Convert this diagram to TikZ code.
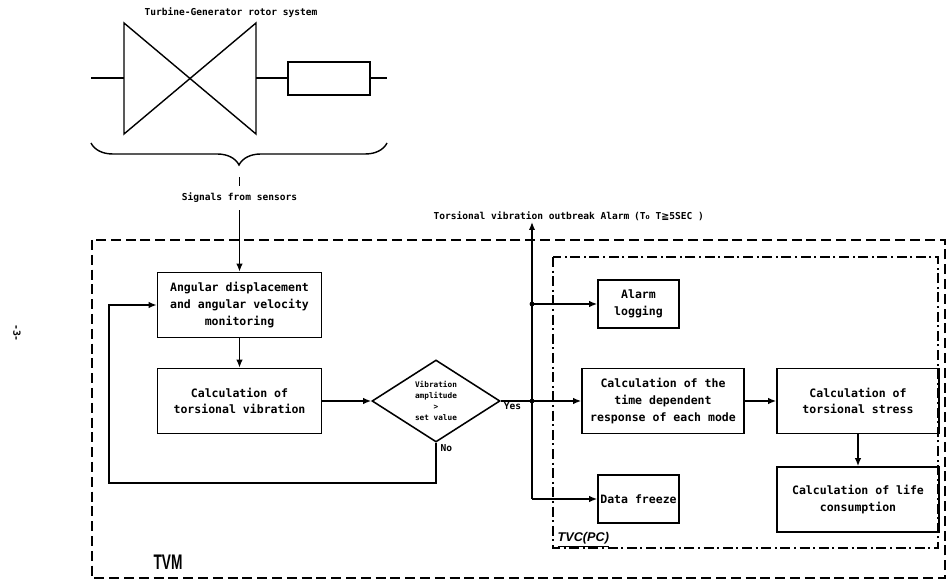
\documentclass[tikz,border=0pt]{standalone}
\usepackage{fontspec}
\setmonofont{DejaVu Sans Mono}
\setsansfont{Liberation Sans}
\newfontfamily\symfont{DejaVu Sans}
\usepackage{tikz}
\usetikzlibrary{arrows.meta,positioning,shapes.geometric,decorations.pathreplacing}
\tikzset{
  procnode/.style={draw,line width=1.1pt,minimum width=41mm,minimum height=16.25mm,align=center,inner sep=1pt,font=\ttfamily\bfseries\fontsize{8.2}{11.8}\selectfont},
  smallnode/.style={procnode,minimum width=20.25mm,minimum height=12mm},
  decisionnode/.style={diamond,draw,line width=1.1pt,minimum width=32mm,minimum height=16mm,inner sep=0pt,align=center,font=\ttfamily\bfseries\fontsize{5.5}{8}\selectfont},
  labeltext/.style={font=\ttfamily\bfseries\fontsize{6.8}{8}\selectfont,inner sep=1pt},
  flowarrow/.style={-{Latex[length=2mm,width=1.6mm]},line width=1pt},
  flowline/.style={line width=1pt},
  tvmframe/.style={line width=1pt,dash pattern=on 2.5mm off 1.2mm},
  tvcframe/.style={line width=0.8pt,dash pattern=on 2.5mm off 0.9mm on 0.5mm off 0.9mm},
  junction/.style={circle,fill,inner sep=0pt,minimum size=1.2mm}
}
\begin{document}
\begin{tikzpicture}[x=0.25mm,y=-0.25mm]
\useasboundingbox (0,0) rectangle (949,580);
\node[labeltext] (title) at (231,13) {Turbine-Generator rotor system};
\draw[flowline] (124,23) -- (256,134) -- (256,23) -- (124,134) -- cycle;
\draw[flowline] (91,78) -- (124,78) (256,78) -- (288,78) (370,78) -- (387,78);
\draw[flowline] (288,62) rectangle (370,95);
\draw[flowline,decorate,decoration={brace,amplitude=5.5mm}] (387,143) -- (91,143);
\node[rotate=-90,font=\ttfamily\bfseries\fontsize{7}{7}\selectfont] (pagenum) at (17,333) {-3-};

\coordinate (bracetip) at (239.5,177);
\node[labeltext,inner ysep=1.8mm] (signals) at (239.5,198) {Signals from sensors};
\node[procnode] (monitor) at (239.5,305) {Angular displacement\\and angular velocity\\monitoring};
\node[procnode] (torvib) at (239.5,401) {Calculation of\\torsional vibration};
\node[decisionnode] (check) at (436,401) {Vibration\\amplitude\\>\\set value};
\node[labeltext,anchor=north west] (yes) at ([xshift=1]check.east) {Yes};
\node[labeltext,anchor=north west] (no) at ([xshift=2]check.south) {No};
\coordinate (loopcorner) at (109,483);
\draw[flowline] (bracetip) -- (signals.north);
\draw[flowarrow] (signals.south) -- (monitor.north);
\draw[flowarrow] (monitor) -- (torvib);
\draw[flowarrow] (torvib) -- (check);
\draw[flowarrow] (check.south) |- (loopcorner) |- (monitor.west);

\coordinate (bus) at (532,401);
\node[procnode,minimum width=40.5mm] (response) at (663,401) {Calculation of the\\time dependent\\response of each mode};
\node[procnode,minimum width=40.5mm] (stress) at (858,401) {Calculation of\\torsional stress};
\node[procnode,minimum width=40.5mm] (life) at (858,499.5) {Calculation of life\\consumption};
\node[smallnode] (logging) at (638.5,304) {Alarm\\logging};
\node[smallnode] (freeze) at (638.5,499) {Data freeze};
\node[labeltext,anchor=south west] (alarm) at (432,222) {Torsional vibration outbreak Alarm\enspace(T{\symfont ₀} T{\symfont ≧}5SEC )};
\draw[flowarrow] (check.east) -- (response.west);
\draw[flowarrow] (response) -- (stress);
\draw[flowarrow] (stress) -- (life);
\draw[flowarrow] (bus |- freeze.west) -- (bus |- alarm.south);
\draw[flowarrow] (bus |- freeze.west) -- (freeze.west);
\draw[flowarrow] (bus |- logging.west) -- (logging.west);
\node[junction] (j1) at (bus) {};
\node[junction] (j2) at (bus |- logging.west) {};

\draw[tvmframe] (92,240) rectangle (945,578);
\draw[tvcframe] (553,257) rectangle (938,548);
\node[font=\sffamily\bfseries\fontsize{15}{15}\selectfont] (tvm) at (168,562) {\scalebox{0.65}[1]{TVM}};
\node[anchor=south west,inner sep=1pt,font=\sffamily\bfseries\itshape\fontsize{9}{9}\selectfont] (tvc) at (556,549) {\underline{TVC(PC)}};
\end{tikzpicture}
\end{document}
